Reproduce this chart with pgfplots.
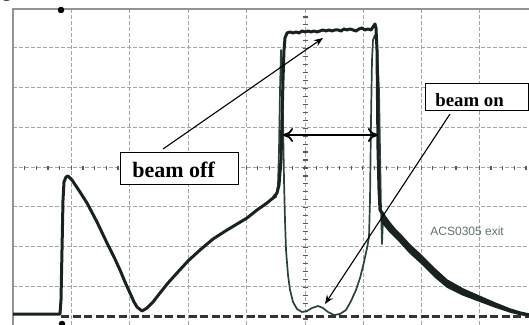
\documentclass[border=0pt]{standalone}
\usepackage{fontspec}
\setmainfont{Liberation Serif}
\newfontfamily\arialfont{Liberation Sans}
\usepackage{pgfplots}
\pgfplotsset{compat=1.18}
\usetikzlibrary{arrows.meta}
\definecolor{thickc}{RGB}{25,35,30}
\definecolor{thinc}{RGB}{40,68,55}
\definecolor{gridc}{RGB}{165,165,165}
\definecolor{tickc}{RGB}{90,90,90}
\definecolor{labc}{RGB}{95,115,108}
\begin{document}
\begin{tikzpicture}
\begin{axis}[scale only axis, width=264.5pt, height=162.5pt,
  xmin=0, xmax=529, ymin=0, ymax=325, y dir=reverse,
  hide axis, clip=false]
% grid
\pgfplotsinvokeforeach{71,129,188,246,363,421,479}{
  \draw[gridc, line width=0.5pt, dash pattern=on 2pt off 1pt] (axis cs:#1,9) -- (axis cs:#1,325);}
\pgfplotsinvokeforeach{48,88,128,207,247,287}{
  \draw[gridc, line width=0.5pt, dash pattern=on 2pt off 1pt] (axis cs:13,#1) -- (axis cs:529,#1);}
\draw[gridc, line width=0.5pt, dash pattern=on 2pt off 1pt] (axis cs:305,9) -- (axis cs:305,325);
\draw[gridc, line width=0.5pt, dash pattern=on 2pt off 1pt] (axis cs:13,168) -- (axis cs:529,168);
\pgfplotsinvokeforeach{1,...,44}{
  \draw[tickc, line width=0.6pt] (axis cs:{13+#1*11.66},166) -- (axis cs:{13+#1*11.66},170);}
\pgfplotsinvokeforeach{1,...,39}{
  \draw[tickc, line width=0.6pt] (axis cs:302.5,{9+#1*7.95}) -- (axis cs:307.5,{9+#1*7.95});}
% frame
\draw[gray!85, line width=0.7pt] (axis cs:13,325) -- (axis cs:13,9) -- (axis cs:529,9);
% partial glyph at the corner
\node[anchor=base, font=\fontsize{11pt}{11pt}\selectfont, inner sep=0pt] at (axis cs:7,-3) {g};
% trigger dots
\addplot[only marks, mark=*, mark size=1.4pt, black] coordinates {(61,10) (62,324)};
% zero reference (dashed)
\addplot[black!80, line width=1.1pt, dash pattern=on 4pt off 1.8pt] coordinates {(61,316.5) (529,316.5)};
% beam on (thin)
\addplot[thinc, line width=0.85pt, line join=round] coordinates {
(270,200) (276,197) (278,185) (279,150) (280,90) (281,50) (282,60) (283,120) (284,180)
(285,220) (286,250) (288,275) (290,290) (293,302) (297,309) (302,312) (307,311)
(312,308) (318,306) (323,308) (328,312) (334,315) (340,314) (346,310) (351,301)
(356,290) (360,278) (364,262) (367,248) (369,237) (370,200) (371,120) (372,60)
(373,40) (375,35) (377,45) (379,90) (380,150) (381,210) (382,244) (383,218)};
% beam off (thick)
\addplot[thickc, line width=1.5pt, line join=round] coordinates {
(13,314) (60,314) (61,300) (62,250) (63,200) (64,182) (66,177) (68,176) (72,180)
(80,192) (87,203) (97,222) (107,243) (114,257) (120,270) (125,282) (130,293)
(134,302) (137,307) (142,311) (147,308) (153,302) (160,293) (168,283) (177,273)
(188,261) (200,250) (213,239) (227,230) (237,224) (247,218) (257,210) (267,203)
(273,198) (277,193) (279,185) (281,160) (282,120) (283,80) (284,50) (285,38)
(287,33) (290,32) (293,33) (296,32) (299,33) (302,31) (305,32) (308,31) (311,32)
(314,31) (317,32) (320,31) (323,30) (326,31) (329,30) (332,31) (335,30) (338,30)
(341,31) (344,29) (347,30) (350,29) (353,30) (356,31) (359,29) (362,28) (365,30)
(368,29) (371,30) (373,27) (375,24) (376,28) (377,50) (377.5,100) (378,150)
(379,190) (380,210) (382,213)};
% decay band (noisy trace)
\addplot[thickc, fill=thickc, line width=0.7pt, line join=round] coordinates {
(382,211) (385,216) (390,223) (395,229) (400,234) (410,245) (421,255) (435,269)
(447,280) (463,289) (479,296) (495,303) (510,309) (520,312) (529,314)
(529,316) (520,314.5) (510,312) (495,307) (479,301) (463,295) (447,287) (435,277)
(421,263) (410,253) (400,242) (395,237) (390,232) (385,226) (382,222)} -- cycle;
% annotations
\draw[black, line width=0.5pt, fill=white] (axis cs:120,153) rectangle (axis cs:238,185);
\node[anchor=base west, inner sep=0pt, font=\fontsize{11pt}{13pt}\selectfont\bfseries] at (axis cs:132,178) {beam off};
\draw[black, line width=0.5pt, fill=white] (axis cs:425,84) rectangle (axis cs:528,111);
\node[anchor=base west, inner sep=0pt, font=\fontsize{9.4pt}{11pt}\selectfont\bfseries] at (axis cs:435,107) {beam on};
\draw[black, line width=0.55pt, -{Stealth[length=4.5pt,width=3.5pt]}] (axis cs:163,149) -- (axis cs:323,38);
\draw[black, line width=0.55pt, -{Stealth[length=4.5pt,width=3.5pt]}] (axis cs:450,114) -- (axis cs:325,304);
\draw[black, line width=0.9pt, {To[length=5pt,width=7pt]}-{To[length=5pt,width=7pt]}] (axis cs:283,135) -- (axis cs:378,135);
\node[anchor=west, inner sep=0pt, text=labc, font=\arialfont\fontsize{6pt}{7pt}\selectfont] at (axis cs:430,231) {ACS0305 exit};
\end{axis}
\pgfresetboundingbox
\path (current axis.south west) rectangle (current axis.north east);
\end{tikzpicture}
\end{document}
